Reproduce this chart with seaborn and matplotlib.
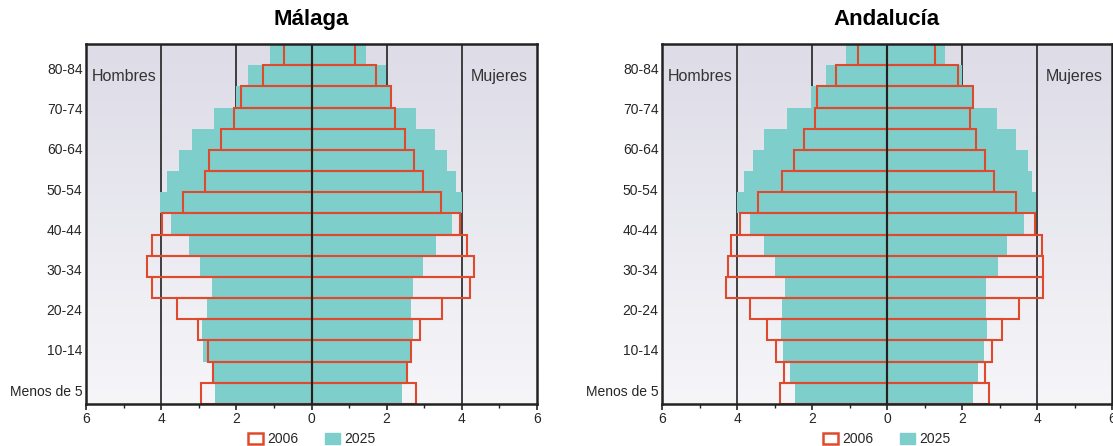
import matplotlib

matplotlib.use("Agg")

import matplotlib.pyplot as plt
import numpy as np
import seaborn as sns
from matplotlib.colors import LinearSegmentedColormap
from matplotlib.patches import Patch
from matplotlib.ticker import FuncFormatter, MultipleLocator

# age groups, youngest first
AGE_GROUPS = [
    "Menos de 5", "5-9", "10-14", "15-19", "20-24", "25-29", "30-34", "35-39",
    "40-44", "45-49", "50-54", "55-59", "60-64", "65-69", "70-74", "75-79", "80-84",
]
TICK_LABELS = ["Menos de 5", "10-14", "20-24", "30-34", "40-44",
               "50-54", "60-64", "70-74", "80-84"]

# % of population, same order as AGE_GROUPS
MALAGA_HOMBRES_2006 = [2.94, 2.63, 2.76, 3.01, 3.58, 4.25, 4.39, 4.25, 3.99,
                       3.43, 2.84, 2.72, 2.40, 2.07, 1.87, 1.30, 0.73]
MALAGA_MUJERES_2006 = [2.77, 2.55, 2.65, 2.89, 3.47, 4.21, 4.32, 4.15, 3.96,
                       3.44, 2.96, 2.74, 2.50, 2.22, 2.12, 1.71, 1.17]
MALAGA_HOMBRES_2025 = [2.56, 2.63, 2.88, 2.92, 2.78, 2.65, 2.96, 3.26, 3.73,
                       4.02, 3.85, 3.52, 3.18, 2.59, 2.02, 1.70, 1.11]
MALAGA_MUJERES_2025 = [2.40, 2.51, 2.65, 2.70, 2.64, 2.70, 2.98, 3.30, 3.74,
                       4.00, 3.84, 3.60, 3.28, 2.77, 2.10, 1.98, 1.46]

ANDALUCIA_HOMBRES_2006 = [2.85, 2.74, 2.96, 3.21, 3.66, 4.29, 4.24, 4.16, 3.91,
                          3.43, 2.80, 2.48, 2.21, 1.91, 1.86, 1.36, 0.78]
ANDALUCIA_MUJERES_2006 = [2.71, 2.61, 2.81, 3.06, 3.53, 4.15, 4.17, 4.12, 3.94,
                          3.45, 2.86, 2.61, 2.38, 2.20, 2.28, 1.89, 1.28]
ANDALUCIA_HOMBRES_2025 = [2.45, 2.59, 2.77, 2.83, 2.80, 2.71, 3.00, 3.28, 3.65,
                          3.99, 3.81, 3.58, 3.28, 2.68, 2.04, 1.62, 1.09]
ANDALUCIA_MUJERES_2025 = [2.30, 2.43, 2.59, 2.67, 2.64, 2.64, 2.96, 3.20, 3.66,
                          3.98, 3.86, 3.77, 3.44, 2.94, 2.26, 2.00, 1.54]

TEAL = "#7ecfcc"
RED = "#e04a2c"
DARK = "#222222"

sns.set_theme(style="white")
plt.rcParams["font.family"] = ["Liberation Sans", "DejaVu Sans"]

bg_cmap = LinearSegmentedColormap.from_list("bg", ["#dddce7", "#f6f6f9"])


def draw_pyramid(ax, title, hombres_2006, mujeres_2006, hombres_2025, mujeres_2025):
    order = AGE_GROUPS[::-1]  # oldest on top

    ax.imshow(np.linspace(0, 1, 256).reshape(-1, 1), cmap=bg_cmap,
              extent=(0, 1, 0, 1), transform=ax.transAxes, aspect="auto", zorder=0)

    for x in (-4, -2, 2, 4):
        ax.axvline(x, color=DARK, lw=1.2, zorder=1)

    for values, sign in ((hombres_2025, -1), (mujeres_2025, 1)):
        sns.barplot(x=[sign * v for v in values], y=AGE_GROUPS, order=order,
                    orient="h", width=1.0, color=TEAL, saturation=1,
                    errorbar=None, linewidth=0, zorder=2, ax=ax)
    for values, sign in ((hombres_2006, -1), (mujeres_2006, 1)):
        sns.barplot(x=[sign * v for v in values], y=AGE_GROUPS, order=order,
                    orient="h", width=1.0, color=RED, saturation=1, fill=False,
                    errorbar=None, linewidth=1.5, zorder=3, ax=ax)

    ax.axvline(0, color=DARK, lw=1.5, zorder=5)

    ax.set_xlim(-6, 6)
    ax.set_ylim(len(AGE_GROUPS) - 0.5, -0.5)
    ax.xaxis.set_major_locator(MultipleLocator(2))
    ax.xaxis.set_minor_locator(MultipleLocator(1))
    ax.xaxis.set_major_formatter(FuncFormatter(lambda v, _: f"{abs(v):g}"))
    ax.tick_params(axis="x", which="major", direction="out", length=4, width=1.2,
                   color=DARK, labelsize=10, pad=2, bottom=True)
    ax.tick_params(axis="x", which="minor", direction="out", length=3, width=1,
                   color=DARK, bottom=True)

    # labels sit slightly off the bar centres in the original
    ax.set_yticks(np.linspace(15.85, 0.65, len(TICK_LABELS)))
    ax.set_yticklabels(TICK_LABELS)
    ax.tick_params(axis="y", length=0, labelsize=10, pad=2.5)
    ax.set_xlabel("")
    ax.set_ylabel("")

    for spine in ax.spines.values():
        spine.set_visible(True)
        spine.set_color(DARK)
        spine.set_linewidth(1.8)
        spine.set_zorder(6)

    ax.text(0.013, 0.91, "Hombres", transform=ax.transAxes, ha="left", va="center",
            fontsize=11.5, color="#333333", zorder=7)
    ax.text(0.979, 0.91, "Mujeres", transform=ax.transAxes, ha="right", va="center",
            fontsize=11.5, color="#333333", zorder=7)
    ax.text(0.5, 1.067, title, transform=ax.transAxes, ha="center", va="center",
            fontsize=16, fontweight="bold", color="black")

    handles = [Patch(facecolor="white", edgecolor=RED, linewidth=1.8),
               Patch(facecolor=TEAL, edgecolor=TEAL)]
    ax.legend(handles, ["2006", "2025"], loc="center", bbox_to_anchor=(0.5, -0.098),
              ncol=2, frameon=False, fontsize=10, handlelength=1.1,
              handleheight=0.85, handletextpad=0.3, columnspacing=1.9)


fig = plt.figure(figsize=(11.13, 4.46), dpi=100)
ax_malaga = fig.add_axes([86 / 1113, 42 / 446, 451 / 1113, 360 / 446])
ax_andalucia = fig.add_axes([662 / 1113, 42 / 446, 450 / 1113, 360 / 446])

draw_pyramid(ax_malaga, "Málaga", MALAGA_HOMBRES_2006, MALAGA_MUJERES_2006,
             MALAGA_HOMBRES_2025, MALAGA_MUJERES_2025)
draw_pyramid(ax_andalucia, "Andalucía", ANDALUCIA_HOMBRES_2006, ANDALUCIA_MUJERES_2006,
             ANDALUCIA_HOMBRES_2025, ANDALUCIA_MUJERES_2025)

fig.savefig("out.png", dpi=100)
plt.close(fig)
